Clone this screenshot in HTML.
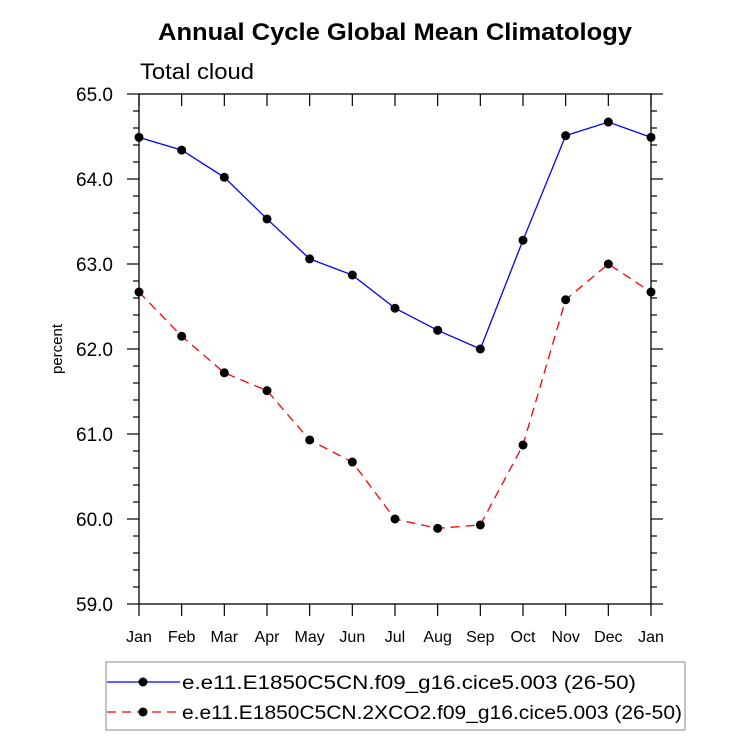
<!DOCTYPE html>
<html><head><meta charset="utf-8"><style>
body{margin:0;background:#fff;}
svg{display:block;font-family:"Liberation Sans",sans-serif;}
</style></head><body>
<svg id="chart" width="733" height="737">
<text x="158" y="40" textLength="474" lengthAdjust="spacingAndGlyphs" font-size="24" font-weight="bold">Annual Cycle Global Mean Climatology</text>
<text x="140" y="79" textLength="114" lengthAdjust="spacingAndGlyphs" font-size="22">Total cloud</text>
<text transform="translate(62,349) rotate(-90)" text-anchor="middle" font-size="15">percent</text>
<rect x="139" y="94" width="512" height="510" fill="none" stroke="#000" stroke-width="1.3"/>
<g id="axes"></g>
<g id="series"></g>
<g>
<rect x="106" y="662" width="579" height="68" fill="none" stroke="#888" stroke-width="1"/>
<line x1="107" y1="682" x2="180" y2="682" stroke="#0000ff" stroke-width="1.3"/>
<circle cx="143" cy="682" r="4.5" fill="#000"/>
<text x="182" y="689" textLength="454" lengthAdjust="spacingAndGlyphs" font-size="19">e.e11.E1850C5CN.f09_g16.cice5.003 (26-50)</text>
<line x1="107" y1="712" x2="180" y2="712" stroke="#ff0000" stroke-width="1.3" stroke-dasharray="9,6"/>
<circle cx="143" cy="712" r="4.5" fill="#000"/>
<text x="182" y="719" textLength="500" lengthAdjust="spacingAndGlyphs" font-size="19">e.e11.E1850C5CN.2XCO2.f09_g16.cice5.003 (26-50)</text>
</g>
</svg>
<script>
const months = ["Jan","Feb","Mar","Apr","May","Jun","Jul","Aug","Sep","Oct","Nov","Dec","Jan"];
const controlValues = [64.49,64.34,64.02,63.53,63.06,62.87,62.48,62.22,62.00,63.28,64.51,64.67,64.49];
const co2Values = [62.67,62.15,61.72,61.51,60.93,60.67,60.00,59.89,59.93,60.87,62.58,63.00,62.67];
const yTicks = ["59.0","60.0","61.0","62.0","63.0","64.0","65.0"];
const NS="http://www.w3.org/2000/svg";
const x0=139,x1=651,y0=604,y1=94,ymin=59,ymax=65;
function xs(i){return x0+(x1-x0)*i/(months.length-1);}
function ys(v){return y0-(v-ymin)/(ymax-ymin)*(y0-y1);}
function mk(tag,a,parent){const e=document.createElementNS(NS,tag);for(const k in a)e.setAttribute(k,a[k]);parent.appendChild(e);return e;}
const ax=document.getElementById('axes');
for(let v=ymin;v<=ymax+1e-9;v+=0.2){
  const y=ys(v);const major=Math.abs(v-Math.round(v))<1e-6;const L=major?12:6;
  const t=mk('line',{x1:x0-L,y1:y,x2:x0,y2:y,stroke:'#000','stroke-width':1.2},ax);
  
  
  const t2=mk('line',{x1:x1,y1:y,x2:x1+L,y2:y,stroke:'#000','stroke-width':1.2},ax);
  
  
}
yTicks.forEach(s=>{
  const e=mk('text',{x:x0-26,y:ys(parseFloat(s))+7,'text-anchor':'end','font-size':19},ax);
  e.textContent=s;
  
  
});
months.forEach((m,i)=>{
  const x=xs(i);
  const t=mk('line',{x1:x,y1:y0,x2:x,y2:y0+12,stroke:'#000','stroke-width':1.2},ax);
  
  
  const t2=mk('line',{x1:x,y1:y1,x2:x,y2:y1+12,stroke:'#000','stroke-width':1.2},ax);
  
  
  const e=mk('text',{x:x,y:642,'text-anchor':'middle','font-size':16},ax);
  e.textContent=m;
  
  
});
const sg=document.getElementById('series');
function draw(vals,color,dash,name){
  const p=mk('polyline',{points:vals.map((v,i)=>xs(i)+','+ys(v)).join(' '),fill:'none',stroke:color,'stroke-width':1.3},sg);
  if(dash)p.setAttribute('stroke-dasharray',dash);
  
  
  vals.forEach((v,i)=>{
    const c=mk('circle',{cx:xs(i),cy:ys(v),r:4.5,fill:'#000'},sg);
    
    
  });
}
draw(controlValues,'#0000ff',null,'control');
draw(co2Values,'#ff0000','9,6','2xco2');
</script>
</body></html>
